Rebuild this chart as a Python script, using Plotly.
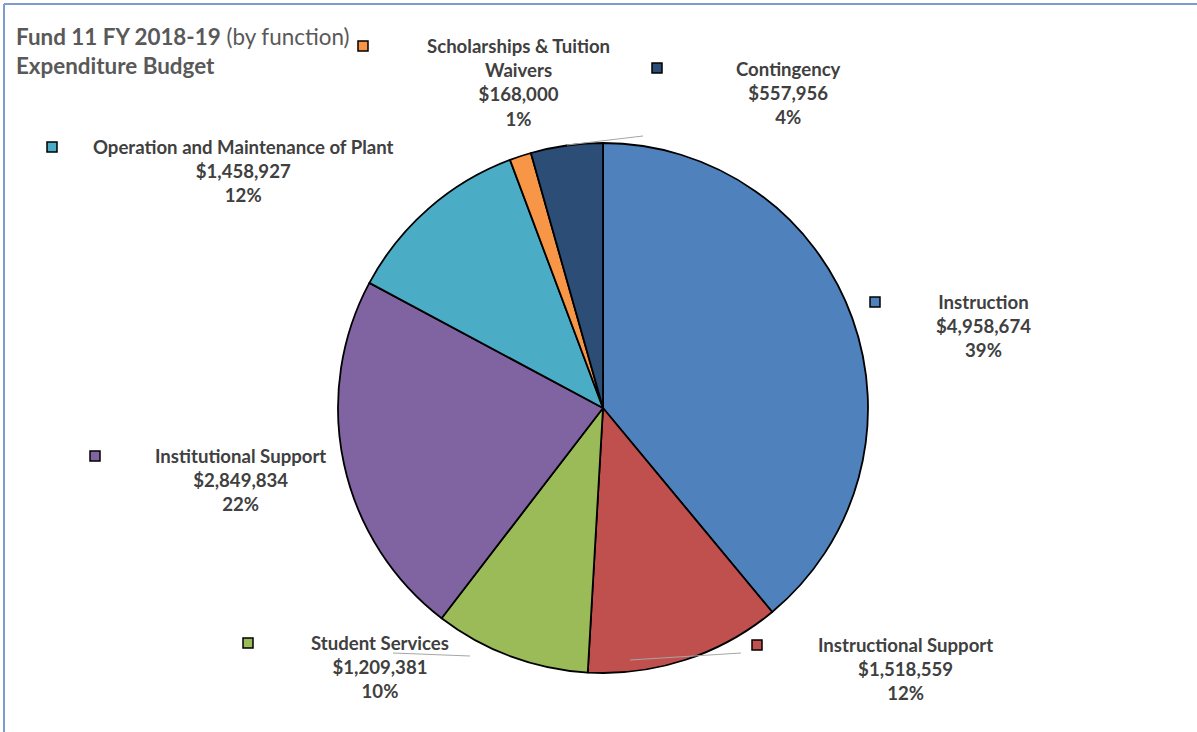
import plotly.graph_objects as go

W, H = 1197, 732

categories = ["Instruction", "Instructional Support", "Student Services",
              "Institutional Support", "Operation and Maintenance of Plant",
              "Scholarships & Tuition Waivers", "Contingency"]
values = [4958674, 1518559, 1209381, 2849834, 1458927, 168000, 557956]
pct_labels = ["39%", "12%", "10%", "22%", "12%", "1%", "4%"]
label_names = ["Instruction", "Instructional Support", "Student Services",
               "Institutional Support", "Operation and Maintenance of Plant",
               "Scholarships & Tuition<br>Waivers", "Contingency"]
colors = ["#4F81BD", "#C0504D", "#9BBB59", "#8064A2", "#4BACC6", "#F79646", "#2C4D75"]

# layout: label text centre x, first line y, marker centre (pixels)
label_pos = [(983, 302), (905, 645), (380, 643), (240, 456), (243, 147), (518, 46), (788, 69)]
marker_pos = [(875, 302), (757, 645), (248, 643), (95, 456), (52, 147), (363, 46), (657, 68)]

def px(x):
    return x / W

def py(y):
    return 1 - y / H

cx, cy, r = 603, 408, 265

fig = go.Figure(go.Pie(
    labels=categories, values=values, sort=False, direction="clockwise", rotation=0,
    marker=dict(colors=colors, line=dict(color="black", width=1.8)),
    textinfo="none", showlegend=False,
    domain=dict(x=[px(cx - r), px(cx + r)], y=[py(cy + r), py(cy - r)]),
))

annotations = []
shapes = []
font_family = "Lato, 'Open Sans', sans-serif"
for name, v, p, (lx, ly), (mx, my), col in zip(label_names, values, pct_labels,
                                                label_pos, marker_pos, colors):
    txt = f"{name}<br>${v:,}<br>{p}"
    annotations.append(dict(
        text=txt, x=px(lx), y=py(ly - 13), xref="paper", yref="paper",
        xanchor="center", yanchor="top", showarrow=False, align="center",
        font=dict(family=font_family, size=18.6, color="#404040", weight="bold"),
    ))
    shapes.append(dict(type="rect", xref="paper", yref="paper",
                       x0=px(mx - 5), x1=px(mx + 5), y0=py(my + 5), y1=py(my - 5),
                       fillcolor=col, line=dict(color="black", width=1.5)))

# leader lines
leaders = [((567, 145), (643, 136)), ((393, 653), (470, 656)), ((630, 660), (741, 653))]
for (x0, y0), (x1, y1) in leaders:
    shapes.append(dict(type="line", xref="paper", yref="paper",
                       x0=px(x0), y0=py(y0), x1=px(x1), y1=py(y1),
                       line=dict(color="#A6A6A6", width=1.2)))

# frame
shapes.append(dict(type="line", xref="paper", yref="paper", x0=px(4), x1=1.0,
                   y0=py(4), y1=py(4), line=dict(color="#7A9CD0", width=2)))
shapes.append(dict(type="line", xref="paper", yref="paper", x0=px(4), x1=px(4),
                   y0=py(4), y1=0, line=dict(color="#7A9CD0", width=2)))

# title
annotations.append(dict(
    text="<b>Fund 11 FY 2018-19</b> (by function)", x=px(14), y=py(36),
    xref="paper", yref="paper", xanchor="left", yanchor="middle", showarrow=False,
    font=dict(family=font_family, size=22.4, color="#595959")))
annotations.append(dict(
    text="<b>Expenditure Budget</b>", x=px(14), y=py(66),
    xref="paper", yref="paper", xanchor="left", yanchor="middle", showarrow=False,
    font=dict(family=font_family, size=22.4, color="#595959")))

fig.update_layout(
    width=W, height=H, margin=dict(l=0, r=0, t=0, b=0),
    paper_bgcolor="white", plot_bgcolor="white",
    annotations=annotations, shapes=shapes,
)

fig.write_html("out.html")
